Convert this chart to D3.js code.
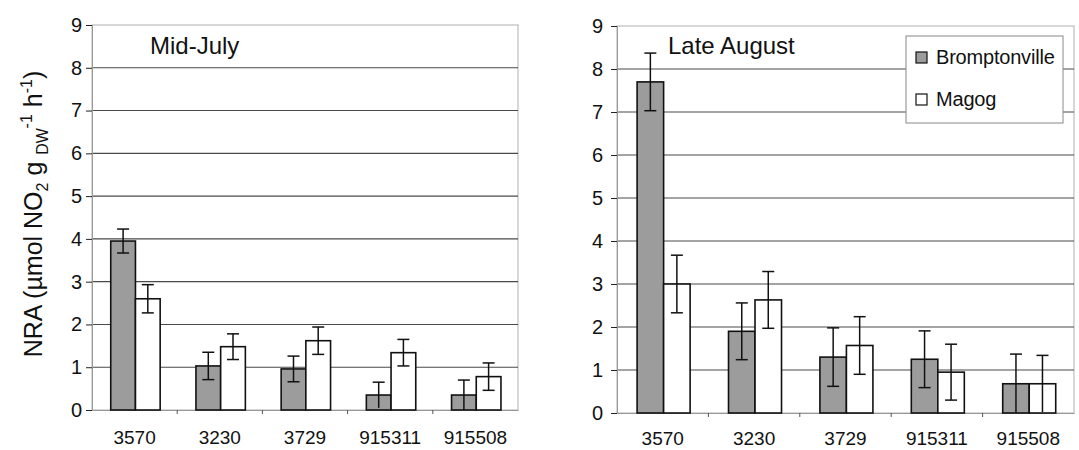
<!DOCTYPE html>
<html>
<head>
<meta charset="utf-8">
<script src="https://cdn.jsdelivr.net/npm/d3@7/dist/d3.min.js"></script>
<style>
  body { margin: 0; background: #fff; }
  svg { font-family: "Liberation Sans", Arial, sans-serif; }
</style>
</head>
<body>
<svg id="chart" width="1079" height="450"></svg>
<script>
var width = 1079, height = 450;

// data
var sites = ["3570", "3230", "3729", "915311", "915508"];
var seriesNames = ["Bromptonville", "Magog"];
var yTicks = [0, 1, 2, 3, 4, 5, 6, 7, 8, 9];

var julyBrompton = [3.95, 1.03, 0.96, 0.35, 0.35];
var julyBromptonErr = [0.28, 0.32, 0.3, 0.3, 0.35];
var julyMagog = [2.6, 1.48, 1.62, 1.34, 0.78];
var julyMagogErr = [0.33, 0.3, 0.32, 0.31, 0.32];

var augBrompton = [7.7, 1.9, 1.3, 1.25, 0.68];
var augBromptonErr = [0.67, 0.66, 0.68, 0.66, 0.69];
var augMagog = [3.0, 2.63, 1.57, 0.95, 0.68];
var augMagogErr = [0.67, 0.66, 0.67, 0.65, 0.66];

var fills = ["#9c9c9c", "#ffffff"];
var font = "Liberation Sans, Arial, sans-serif";

var svg = d3.select("#chart");

function drawPanel(opt) {
  var g = svg.append("g");

  var x = d3.scaleBand().domain(sites).range([opt.left, opt.right]);
  var bw = x.bandwidth();
  var xs = d3.scaleBand().domain([0, 1]).range([bw * 0.22, bw * 0.80]);
  var y = d3.scaleLinear().domain([0, 9]).range([opt.bottom, opt.top]);

  // plot border (light)
  g.append("rect")
    .attr("x", opt.left).attr("y", opt.top)
    .attr("width", opt.right - opt.left).attr("height", opt.bottom - opt.top)
    .attr("fill", "none").attr("stroke", "#b0b0b0").attr("stroke-width", 1);

  // gridlines
  g.selectAll(".grid").data(yTicks.slice(1, -1)).enter().append("line")
    .attr("x1", opt.left).attr("x2", opt.right)
    .attr("y1", function (d) { return y(d); })
    .attr("y2", function (d) { return y(d); })
    .attr("stroke", "#4a4a4a").attr("stroke-width", 1.1);

  // y axis
  var yAxis = g.append("g")
    .attr("transform", "translate(" + opt.left + ",0)")
    .call(d3.axisLeft(y).tickValues(yTicks).tickSize(6).tickPadding(opt.yPad));
  yAxis.select(".domain").attr("stroke", "#999");
  yAxis.selectAll(".tick line").attr("stroke", "#222");
  yAxis.selectAll("text").attr("font-size", 20).attr("fill", "#111")
    .attr("font-family", font);

  // x axis
  var xAxis = g.append("g")
    .attr("transform", "translate(0," + opt.bottom + ")")
    .call(d3.axisBottom(x).tickSize(0).tickPadding(opt.labelPad));
  xAxis.select(".domain").attr("stroke", "#999");
  xAxis.selectAll("text").attr("font-size", 19).attr("fill", "#111")
    .attr("font-family", font);
  g.selectAll(".xtick").data(sites.slice(1)).enter().append("line")
    .attr("x1", function (d) { return x(d); })
    .attr("x2", function (d) { return x(d); })
    .attr("y1", opt.bottom).attr("y2", opt.bottom + 4)
    .attr("stroke", "#555");

  // bars
  var rows = [];
  sites.forEach(function (s, i) {
    opt.values.forEach(function (vals, k) {
      rows.push({ site: s, k: k, v: vals[i], e: opt.errs[k][i] });
    });
  });

  g.selectAll(".bar").data(rows).enter().append("rect")
    .attr("x", function (d) { return x(d.site) + xs(d.k); })
    .attr("y", function (d) { return y(d.v); })
    .attr("width", xs.bandwidth())
    .attr("height", function (d) { return y(0) - y(d.v); })
    .attr("fill", function (d) { return fills[d.k]; })
    .attr("stroke", "#111").attr("stroke-width", 1.6);

  // error bars
  var cap = 6;
  var eb = g.selectAll(".err").data(rows).enter().append("g")
    .attr("stroke", "#111").attr("stroke-width", 1.5);
  function cx(d) { return x(d.site) + xs(d.k) + xs.bandwidth() / 2; }
  eb.append("line")
    .attr("x1", cx).attr("x2", cx)
    .attr("y1", function (d) { return y(d.v + d.e); })
    .attr("y2", function (d) { return y(Math.max(0, d.v - d.e)); });
  eb.append("line")
    .attr("x1", function (d) { return cx(d) - cap; })
    .attr("x2", function (d) { return cx(d) + cap; })
    .attr("y1", function (d) { return y(d.v + d.e); })
    .attr("y2", function (d) { return y(d.v + d.e); });
  eb.filter(function (d) { return d.v - d.e > 0.08; }).append("line")
    .attr("x1", function (d) { return cx(d) - cap; })
    .attr("x2", function (d) { return cx(d) + cap; })
    .attr("y1", function (d) { return y(d.v - d.e); })
    .attr("y2", function (d) { return y(d.v - d.e); });

  // panel title
  g.append("text")
    .attr("x", opt.titleX).attr("y", 54)
    .attr("font-size", 24).attr("fill", "#111")
    .text(opt.title);

  return { x: x, y: y };
}

drawPanel({
  left: 92, right: 518, top: 25, bottom: 410, labelPad: 21, yPad: 4,
  values: [julyBrompton, julyMagog], errs: [julyBromptonErr, julyMagogErr],
  title: "Mid-July", titleX: 150
});

drawPanel({
  left: 617, right: 1074, top: 26, bottom: 413, labelPad: 19, yPad: 8,
  values: [augBrompton, augMagog], errs: [augBromptonErr, augMagogErr],
  title: "Late August", titleX: 668
});

// y axis label
var yl = svg.append("text")
  .attr("transform", "translate(42,214) rotate(-90)")
  .attr("text-anchor", "middle")
  .attr("font-size", 25).attr("fill", "#111");
yl.append("tspan").text("NRA (µmol NO");
yl.append("tspan").attr("font-size", 16).attr("dy", 6).text("2");
yl.append("tspan").attr("dy", -6).text(" g ");
yl.append("tspan").attr("font-size", 16).attr("dy", 6).text("DW");
yl.append("tspan").attr("font-size", 16).attr("dy", -16).text("-1");
yl.append("tspan").attr("dy", 10).text(" h");
yl.append("tspan").attr("font-size", 16).attr("dy", -10).text("-1");
yl.append("tspan").attr("dy", 10).text(")");

// legend
var legend = svg.append("g").attr("transform", "translate(906,36)");
legend.append("rect")
  .attr("width", 157).attr("height", 87)
  .attr("fill", "#fff").attr("stroke", "#888").attr("stroke-width", 1);
var li = legend.selectAll(".li").data(seriesNames).enter().append("g")
  .attr("transform", function (d, i) { return "translate(10," + (21 + i * 42) + ")"; });
li.append("rect")
  .attr("x", 0).attr("y", -5).attr("width", 11).attr("height", 11)
  .attr("fill", function (d, i) { return fills[i]; })
  .attr("stroke", "#111").attr("stroke-width", 1.2);
li.append("text")
  .attr("x", 20).attr("y", 7)
  .attr("font-size", 20).attr("letter-spacing", -0.2).attr("fill", "#111")
  .text(function (d) { return d; });
</script>
</body>
</html>
